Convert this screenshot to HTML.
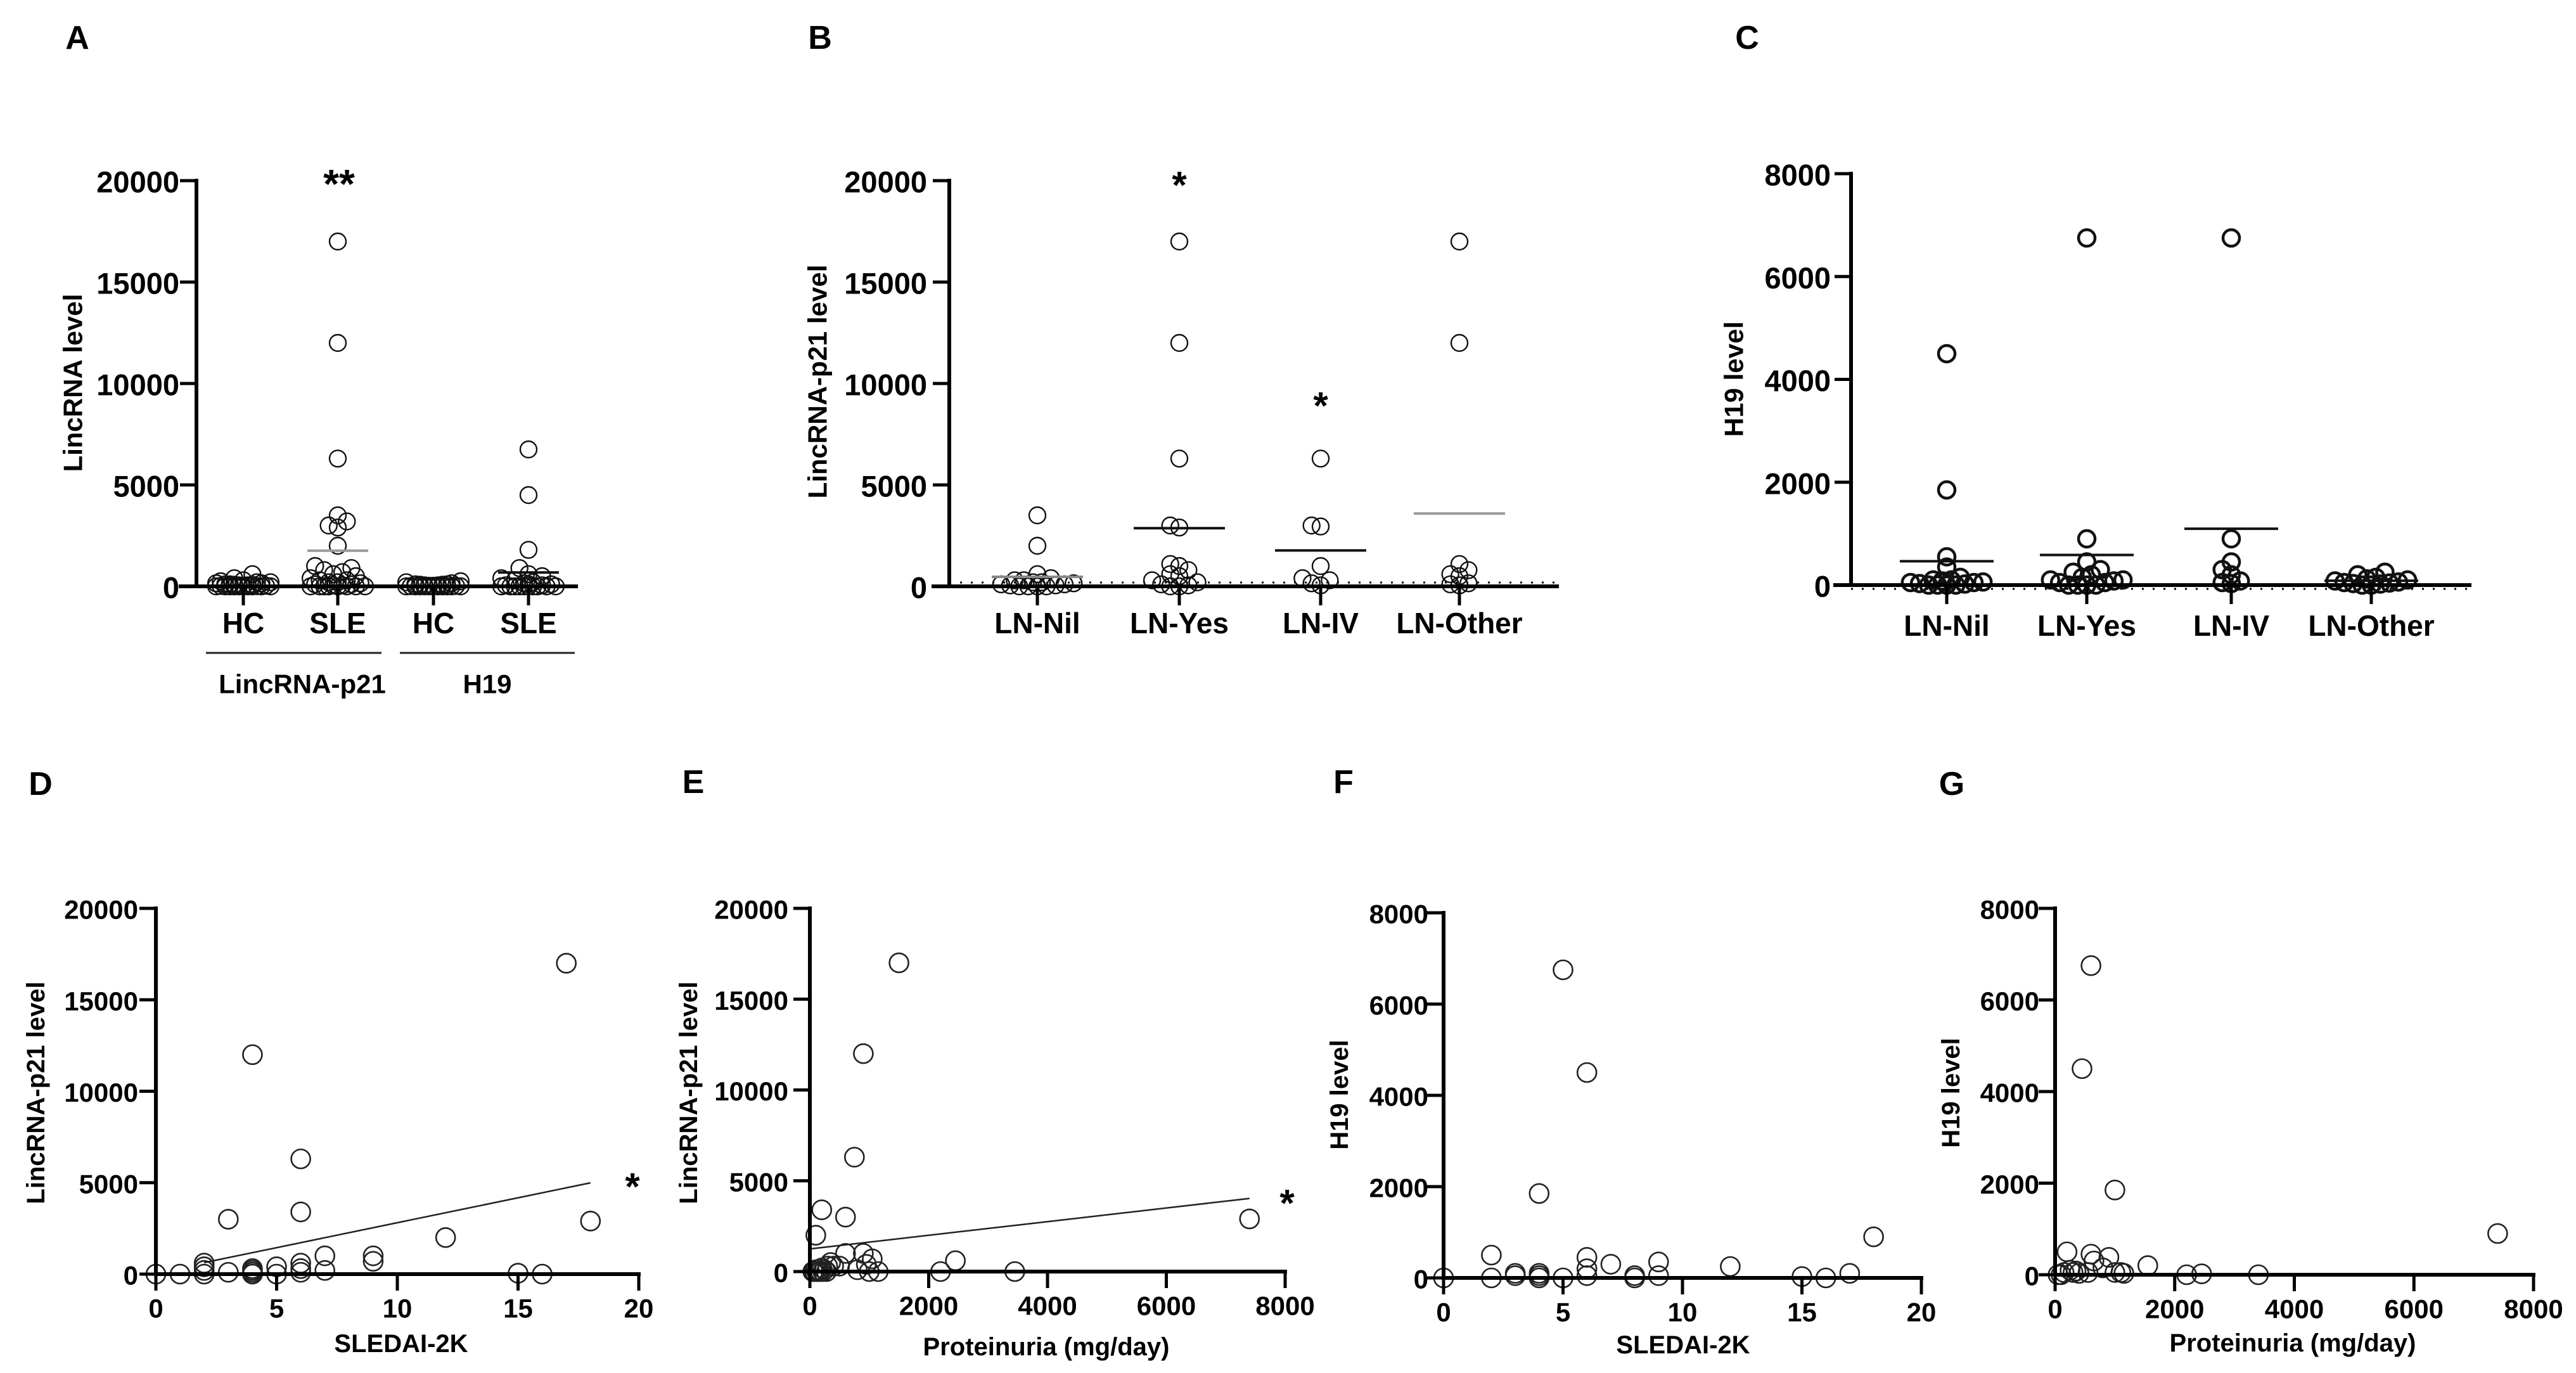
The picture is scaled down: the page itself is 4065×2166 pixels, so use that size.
<!DOCTYPE html>
<html><head><meta charset="utf-8"><style>
html,body{margin:0;padding:0;background:#fff;}
svg{display:block;font-family:"Liberation Sans",Arial,sans-serif;font-weight:bold;}
</style></head><body>
<svg id="fig" width="4065" height="2166" viewBox="0 0 4065 2166" xmlns="http://www.w3.org/2000/svg"></svg>
<script>
// ===== Panel A data =====
const aCategories = ["HC","SLE","HC","SLE"];
const aLincHC = [600,400,300,250,200,200,150,150,100,100,80,80,50,50,30,30,20,10,0,0,0,0,0,0,0,0,0,0];
const aLincSLE = [17000,12000,6300,3500,3200,3000,2900,2000,1000,900,800,700,600,500,400,300,300,200,200,150,100,100,50,50,0,0,0,0,0,0,0,0];
const aH19HC = [250,200,150,100,100,80,80,50,50,30,30,20,10,0,0,0,0,0,0,0,0,0,0,0];
const aH19SLE = [6750,4500,1800,900,600,500,400,300,200,150,100,100,50,50,0,0,0,0,0,0,0,0,0,0];
const aTicks = [0,5000,10000,15000,20000];
// ===== Panel B data =====
const lnCategories = ["LN-Nil","LN-Yes","LN-IV","LN-Other"];
const bNil = [3500,2000,600,400,300,300,200,200,150,100,100,50,50,0,0,0,0];
const bYes = [17000,12000,6300,3000,2900,1100,1000,800,600,500,300,200,100,50,0,0];
const bIV = [6300,3000,2950,1000,400,300,150,50];
const bOther = [17000,12000,1100,800,600,500,150,100,50];
const bTicks = [0,5000,10000,15000,20000];
// ===== Panel C data =====
const cNil = [4500,1850,550,350,150,100,100,80,60,50,50,30,20,0,0,0,0];
const cYes = [6750,900,450,300,250,200,150,100,100,80,50,50,0,0,0,0];
const cIV = [6750,900,450,300,200,80,50,30];
const cOther = [250,200,150,120,100,80,60,50,40,30,20,0,0];
const cTicks = [0,2000,4000,6000,8000];
// ===== Panel D data (SLEDAI vs LincRNA-p21) =====
const dSledai = [0,1,2,2,2,2,3,3,4,4,4,4,4,5,5,6,6,6,6,6,7,7,9,9,12,15,16,17,18];
const dLinc =   [0,0,600,400,200,0,3000,100,12000,300,200,100,0,400,0,6300,3400,600,300,100,1000,200,1000,700,2000,50,0,17000,2900];
const dXTicks = [0,5,10,15,20];
const dYTicks = [0,5000,10000,15000,20000];
// ===== Panel E data (Proteinuria vs LincRNA-p21) =====
const eProt = [1500,900,750,200,600,100,7400,600,900,1050,2450,350,300,400,200,100,50,150,250,800,1000,1150,2200,3450,500,950,80,120,180,220,280,60,140];
const eLinc = [17000,12000,6300,3400,3000,2000,2900,1000,1000,700,600,500,300,300,200,100,0,0,100,100,0,0,0,0,300,400,0,0,0,0,0,0,0];
const eXTicks = [0,2000,4000,6000,8000];
const eYTicks = [0,5000,10000,15000,20000];
// ===== Panel F data (SLEDAI vs H19) =====
const fSledai = [0,2,2,3,3,4,4,4,4,5,5,6,6,6,6,7,8,8,9,9,12,15,16,17,18];
const fH19 =    [0,500,0,100,50,1850,100,50,0,6750,0,4500,450,200,50,300,50,0,350,50,250,30,0,100,900];
const fXTicks = [0,5,10,15,20];
const fYTicks = [0,2000,4000,6000,8000];
// ===== Panel G data (Proteinuria vs H19) =====
const gProt = [600,450,1000,7400,200,600,900,650,800,1550,2200,2450,3400,1000,1100,1150,100,150,250,300,350,400,550,50];
const gH19 =  [6750,4500,1850,900,500,450,380,300,150,200,0,20,0,50,50,30,0,50,100,50,80,30,50,0];
const gXTicks = [0,2000,4000,6000,8000];
const gYTicks = [0,2000,4000,6000,8000];

const NS = "http://www.w3.org/2000/svg";
const svg = document.getElementById("fig");
function mk(tag, attrs, parent){
  const e = document.createElementNS(NS, tag);
  for (const k in attrs) e.setAttribute(k, attrs[k]);
  (parent||svg).appendChild(e);
  return e;
}
function txt(s, x, y, size, anchor, parent, rot){
  const t = mk("text", {x:x, y:y, "font-size":size, "text-anchor":anchor||"middle", "dominant-baseline":"central", fill:"#000"}, parent);
  if (rot) t.setAttribute("transform", "rotate(-90 "+x+" "+y+")");
  t.textContent = s;
  return t;
}
function panelLabel(s, x, y){
  const t = txt(s, x, y, 52, "middle");
  
  
}
function yAxis(g, ax, y0, yTop, ticks, vmax, labelEnd, fs){
  const l = mk("line", {x1:ax, y1:y0+3, x2:ax, y2:yTop-3, stroke:"#000", "stroke-width":6}, g);
  
  
  ticks.forEach(v => {
    const y = y0 - v/vmax*(y0-yTop);
    const tk = mk("line", {x1:ax-26, y1:y, x2:ax, y2:y, stroke:"#000", "stroke-width":5}, g);
    
    
    const t = txt(String(v), labelEnd, y+2, fs, "end", g);
    
    
  });
}
function swarm(vals, cx, yf, r, maxW){
  const idx = vals.map((v,i)=>i).sort((a,b)=>vals[a]-vals[b]);
  const placed = [];
  const out = new Array(vals.length);
  const minD = r*1.05, step = r*0.55;
  idx.forEach(i => {
    const y = yf(vals[i]);
    let best = null, bestScore = -1;
    for (let k=0;k<40;k++){
      const off = (k%2===0?1:-1)*Math.ceil(k/2)*step;
      if (Math.abs(off) > maxW) continue;
      let md = 1e9;
      placed.forEach(p => { md = Math.min(md, Math.hypot(p[0]-(cx+off), p[1]-y)); });
      if (md >= minD){ best = off; break; }
      if (md > bestScore){ bestScore = md; best = off; }
    }
    placed.push([cx+best, y]);
    out[i] = [cx+best, y];
  });
  return out;
}
function mean(a){ return a.reduce((s,v)=>s+v,0)/a.length; }

function categoryPanel(cfg){
  const g = mk("g", {});
  
  
  const yf = v => cfg.y0 - v/cfg.vmax*(cfg.y0-cfg.yTop);
  const dl = mk("line", {x1:cfg.ax, y1:cfg.y0+cfg.dotOff, x2:cfg.xEnd, y2:cfg.y0+cfg.dotOff, stroke:"#000", "stroke-width":3, "stroke-dasharray":"3 14"}, g);
  
  
  cfg.groups.forEach((grp, gi) => {
    const cx = cfg.cats[gi];
    const pts = swarm(grp.vals, cx, yf, cfg.r, cfg.maxW);
    pts.forEach(p => {
      const c = mk("circle", {cx:p[0], cy:p[1], r:cfg.r, fill:"none", stroke:"#111", "stroke-width":cfg.sw}, g);
      
      
    });
    const m = mean(grp.vals);
    const ml = mk("line", {x1:cx-cfg.meanW, y1:yf(m), x2:cx+cfg.meanW, y2:yf(m), stroke:grp.meanColor, "stroke-width":4}, g);
    
    
    const tk = mk("line", {x1:cx, y1:cfg.y0, x2:cx, y2:cfg.y0+30, stroke:"#000", "stroke-width":5}, g);
    
    
    const t = txt(grp.label, cx, cfg.labelY, 46, "middle", g);
    
    
  });
  const xl = mk("line", {x1:cfg.ax-28, y1:cfg.y0, x2:cfg.xEnd, y2:cfg.y0, stroke:"#000", "stroke-width":6}, g);
  
  
  yAxis(g, cfg.ax, cfg.y0, cfg.yTop, cfg.ticks, cfg.vmax, cfg.labelEnd, 47);
  const yl = txt(cfg.ylabel, cfg.ylx, cfg.yly, 42, "middle", g, true);
  
  
  return g;
}

function scatterPanel(cfg){
  const g = mk("g", {});
  
  
  const xf = v => cfg.ax + v/cfg.xmax*(cfg.xEnd-cfg.ax);
  const yf = v => cfg.y0 - v/cfg.vmax*(cfg.y0-cfg.yTop);
  cfg.xs.forEach((xv,i) => {
    const c = mk("circle", {cx:xf(xv), cy:yf(cfg.ys[i]), r:15, fill:"none", stroke:"#222", "stroke-width":2.6}, g);
    
    
  });
  if (cfg.fit){
    const n = cfg.xs.length, mx = mean(cfg.xs), my = mean(cfg.ys);
    let sxy=0, sxx=0;
    for (let i=0;i<n;i++){ sxy += (cfg.xs[i]-mx)*(cfg.ys[i]-my); sxx += (cfg.xs[i]-mx)**2; }
    const b = sxy/sxx, a = my - b*mx;
    const x1 = cfg.fitStart, x2 = Math.max(...cfg.xs);
    const fl = mk("line", {x1:xf(x1), y1:yf(a+b*x1), x2:xf(x2), y2:yf(a+b*x2), stroke:"#222", "stroke-width":2.5}, g);
    
    
    const st = txt("*", cfg.starX, cfg.starY, 60, "middle", g);
    
    
  }
  const xl = mk("line", {x1:cfg.ax-3, y1:cfg.y0, x2:cfg.xEnd+3, y2:cfg.y0, stroke:"#000", "stroke-width":6}, g);
  
  
  cfg.xTicks.forEach(v => {
    const x = xf(v);
    const tk = mk("line", {x1:x, y1:cfg.y0, x2:x, y2:cfg.y0+26, stroke:"#000", "stroke-width":5}, g);
    
    
    const t = txt(String(v), x, cfg.y0+54, 42, "middle", g);
    
    
  });
  yAxis(g, cfg.ax, cfg.y0, cfg.yTop, cfg.yTicks, cfg.vmax, cfg.labelEnd, 42);
  const xt = txt(cfg.xlabel, cfg.xlx, cfg.xly, 40, "middle", g);
  
  
  const yl = txt(cfg.ylabel, cfg.ylx, cfg.yly, 40, "middle", g, true);
  
  
}

// ===== Panel A =====
panelLabel("A", 122, 60);
categoryPanel({name:"panel-a", ax:310, y0:925, yTop:285, vmax:20000, xEnd:912, ticks:aTicks, labelEnd:283,
  cats:[384,533,684,834], labelY:983, r:13, sw:2.4, maxW:46, meanW:48, dotOff:-100000,
  ylabel:"LincRNA level", ylx:115, yly:604,
  groups:[{vals:aLincHC,label:aCategories[0],meanColor:"rgba(0,0,0,0)"},
          {vals:aLincSLE,label:aCategories[1],meanColor:"#999"},
          {vals:aH19HC,label:aCategories[2],meanColor:"rgba(0,0,0,0)"},
          {vals:aH19SLE,label:aCategories[3],meanColor:"#111"}]});
(function(){
  const g1 = mk("line",{x1:325,y1:1030,x2:602,y2:1030,stroke:"#222","stroke-width":3});
  
  
  const g2 = mk("line",{x1:631,y1:1030,x2:907,y2:1030,stroke:"#222","stroke-width":3});
  
  
  const t1 = txt("LincRNA-p21", 477, 1079, 42, "middle");
  
  
  const t2 = txt("H19", 769, 1079, 42, "middle");
  
  
  const s = txt("**", 535, 290, 64, "middle");
  
  
})();

// ===== Panel B =====
panelLabel("B", 1294, 60);
categoryPanel({name:"panel-b", ax:1498, y0:925, yTop:285, vmax:20000, xEnd:2460, ticks:bTicks, labelEnd:1463,
  cats:[1637,1861,2084,2303], labelY:983, r:13, sw:2.4, maxW:70, meanW:72, dotOff:-6,
  ylabel:"LincRNA-p21 level", ylx:1290, yly:602,
  groups:[{vals:bNil,label:lnCategories[0],meanColor:"#888"},
          {vals:bYes,label:lnCategories[1],meanColor:"#111"},
          {vals:bIV,label:lnCategories[2],meanColor:"#111"},
          {vals:bOther,label:lnCategories[3],meanColor:"#999"}]});
(function(){
  const s1 = txt("*", 1861, 292, 60, "middle");
  
  
  const s2 = txt("*", 2084, 640, 60, "middle");
  
  
})();

// ===== Panel C =====
panelLabel("C", 2757, 60);
categoryPanel({name:"panel-c", ax:2921, y0:923, yTop:274, vmax:8000, xEnd:3900, ticks:cTicks, labelEnd:2889,
  cats:[3072,3293,3521,3742], labelY:987, r:13, sw:4.5, maxW:70, meanW:74, dotOff:6,
  ylabel:"H19 level", ylx:2736, yly:598,
  groups:[{vals:cNil,label:lnCategories[0],meanColor:"#111"},
          {vals:cYes,label:lnCategories[1],meanColor:"#111"},
          {vals:cIV,label:lnCategories[2],meanColor:"#111"},
          {vals:cOther,label:lnCategories[3],meanColor:"#111"}]});

// ===== Panel D =====
panelLabel("D", 64, 1237);
scatterPanel({name:"panel-d", ax:246, xEnd:1008, xmax:20, y0:2010, yTop:1433, vmax:20000,
  xs:dSledai, ys:dLinc, xTicks:dXTicks, yTicks:dYTicks, labelEnd:218,
  xlabel:"SLEDAI-2K", xlx:633, xly:2120, ylabel:"LincRNA-p21 level", ylx:57, yly:1724,
  fit:true, fitStart:2, starX:998, starY:1872});
// ===== Panel E =====
panelLabel("E", 1094, 1234);
scatterPanel({name:"panel-e", ax:1278, xEnd:2028, xmax:8000, y0:2006, yTop:1433, vmax:20000,
  xs:eProt, ys:eLinc, xTicks:eXTicks, yTicks:eYTicks, labelEnd:1244,
  xlabel:"Proteinuria (mg/day)", xlx:1651, xly:2125, ylabel:"LincRNA-p21 level", ylx:1087, yly:1724,
  fit:true, fitStart:0, starX:2031, starY:1898});
// ===== Panel F =====
panelLabel("F", 2120, 1234);
scatterPanel({name:"panel-f", ax:2278, xEnd:3032, xmax:20, y0:2016, yTop:1440, vmax:8000,
  xs:fSledai, ys:fH19, xTicks:fXTicks, yTicks:fYTicks, labelEnd:2254,
  xlabel:"SLEDAI-2K", xlx:2656, xly:2122, ylabel:"H19 level", ylx:2114, yly:1727, fit:false});
// ===== Panel G =====
panelLabel("G", 3080, 1237);
scatterPanel({name:"panel-g", ax:3243, xEnd:3998, xmax:8000, y0:2011, yTop:1433, vmax:8000,
  xs:gProt, ys:gH19, xTicks:gXTicks, yTicks:gYTicks, labelEnd:3218,
  xlabel:"Proteinuria (mg/day)", xlx:3618, xly:2119, ylabel:"H19 level", ylx:3079, yly:1724, fit:false});
</script>
</body></html>
